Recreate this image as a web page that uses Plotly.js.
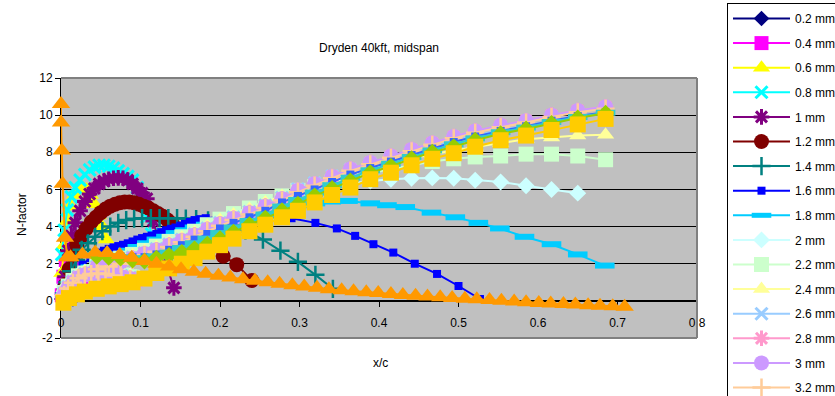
<!DOCTYPE html>
<html><head><meta charset="utf-8">
<script src="https://cdn.plot.ly/plotly-3.0.1.min.js"></script>
<style>html,body{margin:0;padding:0;background:#fff;overflow:hidden;}#chart{width:835px;height:396px;}</style>
</head><body><div id="chart"></div>
<script>
// ---------- data ----------
const x02 = [0.001,0.003,0.005,0.008,0.011,0.015];
const n02 = [0.1,0.6,0.9,0.8,0.5,0.1];
const x04 = [0.001,0.003,0.006,0.009,0.012,0.016,0.02,0.025];
const n04 = [0.3,1.3,2.2,2.7,2.8,2.5,1.9,1.0];
const x06 = [0.001,0.004,0.008,0.012,0.017,0.022,0.027,0.032,0.037,0.042,0.047,0.052,0.057];
const n06 = [1.5,3.0,4.3,5.1,5.7,6.0,6.1,6.0,5.7,5.2,4.6,4.0,3.3];
const x08 = [0.001,0.004,0.008,0.013,0.018,0.024,0.03,0.036,0.042,0.048,0.054,0.06,0.066,0.072,0.078,0.084,0.09,0.096,0.102,0.108,0.114];
const n08 = [2.5,3.8,4.9,5.6,6.1,6.5,6.8,7.05,7.2,7.3,7.3,7.25,7.15,7.0,6.85,6.7,6.5,6.1,5.4,4.5,3.6];
const x10 = [0.002,0.005,0.009,0.013,0.018,0.024,0.03,0.036,0.042,0.048,0.054,0.06,0.066,0.072,0.078,0.084,0.09,0.096,0.102,0.108,0.116,0.124,0.133,0.142];
const n10 = [0.4,1.3,2.7,3.5,4.2,4.85,5.35,5.75,6.05,6.3,6.45,6.55,6.6,6.62,6.6,6.5,6.3,6.05,5.8,5.5,4.3,3.1,1.9,0.7];
const x12 = [0.003,0.006,0.01,0.015,0.02,0.026,0.032,0.038,0.044,0.05,0.056,0.062,0.068,0.074,0.08,0.086,0.092,0.098,0.104,0.11,0.116,0.122,0.128,0.134,0.14,0.15,0.168,0.186,0.204,0.221,0.24];
const n12 = [0.1,0.9,1.7,2.4,3.0,3.5,3.9,4.25,4.5,4.75,4.95,5.1,5.2,5.28,5.32,5.32,5.28,5.2,5.1,5.0,4.85,4.7,4.55,4.35,4.15,3.85,3.4,2.9,2.4,1.95,1.1];
const x14 = [0.004,0.008,0.013,0.019,0.026,0.034,0.043,0.052,0.062,0.072,0.082,0.092,0.102,0.113,0.124,0.135,0.146,0.157,0.17,0.185,0.2,0.215,0.232,0.254,0.276,0.298,0.32,0.342];
const n14 = [0.3,1.0,1.6,2.2,2.75,3.1,3.45,3.75,4.0,4.2,4.35,4.42,4.45,4.45,4.45,4.45,4.45,4.43,4.4,4.33,4.22,4.08,3.8,3.3,2.7,2.1,1.4,0.65];
const x16 = [0.005,0.01,0.018,0.027,0.037,0.048,0.054,0.06,0.066,0.072,0.078,0.084,0.09,0.096,0.102,0.108,0.114,0.12,0.126,0.132,0.138,0.144,0.15,0.156,0.162,0.168,0.175,0.182,0.2,0.22,0.24,0.26,0.29,0.32,0.347,0.37,0.393,0.418,0.445,0.473,0.5,0.527];
const n16 = [0.4,0.9,1.5,1.95,2.3,2.6,2.7,2.8,2.88,2.95,3.02,3.1,3.2,3.3,3.38,3.45,3.52,3.6,3.7,3.8,3.88,3.95,4.05,4.15,4.25,4.35,4.4,4.45,4.52,4.56,4.58,4.57,4.45,4.2,3.9,3.5,3.05,2.6,2.0,1.45,0.8,0.1];
const x18 = [0.005,0.01,0.018,0.027,0.037,0.048,0.06,0.072,0.084,0.096,0.108,0.12,0.132,0.144,0.156,0.168,0.182,0.2,0.22,0.24,0.26,0.28,0.3,0.32,0.34,0.361,0.389,0.41,0.433,0.466,0.496,0.525,0.552,0.583,0.617,0.65,0.684];
const n18 = [0.3,0.7,1.15,1.5,1.8,2.05,2.3,2.5,2.7,2.9,3.1,3.3,3.45,3.65,3.8,3.95,4.1,4.3,4.5,4.7,4.85,5.0,5.15,5.25,5.35,5.38,5.25,5.15,5.05,4.75,4.5,4.2,3.9,3.45,3.05,2.5,1.9];

// upper branch stations shared by the 2.0 – 3.8 mm curves
const xU = [0.045,0.06,0.075,0.09,0.105,0.12,0.136,0.152,0.168,0.184,0.2,0.217,0.237,0.257,0.278,0.298,0.319,0.341,0.364,0.389,0.415,0.441,0.467,0.494,0.521,0.553,0.585,0.617,0.65,0.685];
const n20 = [1.9,2.05,2.2,2.4,2.62,2.85,3.1,3.35,3.65,4.0,4.3,4.6,4.9,5.2,5.5,5.7,5.9,6.1,6.3,6.45,6.55,6.6,6.62,6.6,6.5,6.4,6.2,6.0,5.8];
const n22 = [2.0,2.15,2.3,2.5,2.72,2.95,3.2,3.45,3.75,4.1,4.4,4.7,5.0,5.35,5.65,5.95,6.15,6.4,6.65,6.85,7.1,7.3,7.5,7.65,7.75,7.8,7.9,7.9,7.8,7.6];
const n24 = [1.95,2.1,2.25,2.45,2.68,2.9,3.15,3.4,3.7,4.05,4.35,4.65,4.95,5.3,5.65,6.0,6.25,6.55,6.85,7.1,7.4,7.65,7.9,8.1,8.3,8.5,8.7,8.8,8.9,8.95];
const n26 = [1.85,2.0,2.15,2.35,2.58,2.8,3.05,3.3,3.6,3.9,4.2,4.5,4.8,5.15,5.55,6.02,6.35,6.72,7.08,7.4,7.72,8.05,8.35,8.65,8.92,9.2,9.42,9.7,9.92,10.1];
const n28 = [1.8,1.95,2.1,2.3,2.55,2.75,3.0,3.25,3.55,3.85,4.15,4.45,4.75,5.1,5.5,5.95,6.3,6.7,7.1,7.45,7.8,8.15,8.5,8.85,9.15,9.45,9.7,10.0,10.25,10.45];
const n30 = [1.8,1.95,2.1,2.3,2.55,2.75,3.0,3.25,3.55,3.85,4.15,4.45,4.75,5.1,5.5,5.95,6.3,6.7,7.1,7.45,7.8,8.15,8.5,8.85,9.15,9.45,9.7,10.0,10.25,10.45];
const n32 = [1.7,1.85,2.0,2.2,2.45,2.65,2.9,3.15,3.45,3.75,4.05,4.35,4.65,5.0,5.4,5.85,6.2,6.6,7.0,7.35,7.7,8.05,8.4,8.75,9.05,9.35,9.6,9.9,10.15,10.35];
const n34 = [2.5,2.45,2.4,2.35,2.35,2.5,2.75,3.0,3.3,3.6,3.9,4.2,4.5,4.85,5.3,5.65,6.0,6.4,6.8,7.15,7.5,7.85,8.2,8.55,8.85,9.15,9.4,9.7,9.95,10.15];
const n36 = [2.45,2.4,2.35,2.3,2.25,2.4,2.6,2.85,3.1,3.35,3.65,3.95,4.3,4.65,5.08,5.43,5.83,6.23,6.63,7.03,7.38,7.75,8.1,8.43,8.75,9.08,9.33,9.63,9.9,10.13];
const n38 = [2.4,2.35,2.3,2.2,2.15,2.3,2.45,2.6,2.8,3.05,3.35,3.7,4.1,4.45,4.85,5.2,5.65,6.05,6.45,6.9,7.25,7.65,8.0,8.3,8.65,9.0,9.25,9.55,9.85,10.1];

// lower leading-edge branch of the 2.0 – 3.2 mm curves
const xL = [0.004,0.009,0.015,0.022,0.03,0.038,0.047,0.056,0.066,0.076,0.087,0.098];
const n20L = [0.5,0.85,1.15,1.4,1.55,1.62,1.65,1.62,1.55,1.45,1.35,1.25];
const n22L = [0.45,0.8,1.1,1.35,1.5,1.57,1.6,1.57,1.5,1.4,1.3,1.2];
const n24L = [0.52,0.87,1.17,1.42,1.57,1.64,1.67,1.64,1.57,1.47,1.37,1.27];
const n26L = [0.4,0.75,1.05,1.3,1.45,1.52,1.55,1.52,1.45,1.35,1.25,1.15];
const n28L = [0.37,0.72,1.02,1.27,1.42,1.49,1.52,1.49,1.42,1.32,1.22,1.12];
const n30L = [0.35,0.7,1.0,1.25,1.4,1.47,1.5,1.47,1.4,1.3,1.2,1.1];
const n32L = [0.32,0.67,0.97,1.22,1.37,1.44,1.47,1.44,1.37,1.27,1.17,1.07];

const x40 = [0.003,0.01,0.02,0.03,0.045,0.06,0.075,0.09,0.105,0.12,0.136,0.152,0.168,0.184,0.2,0.217,0.237,0.257,0.278,0.298,0.319,0.341,0.364,0.389,0.415,0.441,0.467,0.494,0.521,0.553,0.585,0.617,0.65,0.685];
const n40 = [-0.1,0.15,0.35,0.5,0.65,0.78,0.9,1.0,1.2,1.5,1.75,2.0,2.3,2.65,3.0,3.35,3.75,4.1,4.5,4.85,5.3,5.7,6.1,6.55,6.9,7.3,7.65,7.95,8.3,8.65,8.9,9.2,9.5,9.8];
const x42 = [0.0,0.0,0.001,0.002,0.005,0.008,0.012,0.027,0.043,0.058,0.074,0.089,0.105,0.12,0.136,0.151,0.167,0.182,0.198,0.213,0.229,0.244,0.26,0.275,0.291,0.306,0.322,0.337,0.353,0.368,0.384,0.399,0.415,0.43,0.446,0.461,0.477,0.492,0.508,0.523,0.539,0.554,0.57,0.585,0.601,0.616,0.632,0.647,0.663,0.678,0.694,0.709];
const n42 = [10.6,9.6,8.1,6.3,3.4,2.35,2.35,2.5,2.6,2.58,2.47,2.32,2.15,2.0,1.85,1.7,1.57,1.46,1.35,1.26,1.17,1.08,1.0,0.92,0.84,0.77,0.7,0.63,0.57,0.52,0.47,0.42,0.37,0.32,0.28,0.24,0.2,0.16,0.12,0.08,0.04,0.0,-0.04,-0.08,-0.11,-0.14,-0.17,-0.2,-0.23,-0.26,-0.29,-0.32];

const yTickVals = [-2,0,2,4,6,8,10,12];
const yTickText = ['-2','0','2','4','6','8','10','12'];

// ---------- traces ----------
const FONT = 'Arial, "Liberation Sans", sans-serif';
const openSyms = ['x-thin','asterisk','cross-thin','line-ew'];
function tr(name, x, y, color, symbol, size, show, group, lw) {
  const open = openSyms.indexOf(symbol) >= 0;
  return {
    type: 'scatter', mode: 'lines+markers', name: name, x: x, y: y,
    showlegend: show, legendgroup: group || name, cliponaxis: false,
    line: {color: color, width: 2},
    marker: {symbol: symbol, size: size, color: color,
             line: {color: color, width: open ? (lw || 2) : 0}}
  };
}
const traces = [
  tr('0.2 mm', x02, n02, '#000080', 'diamond', 12, true),
  tr('0.4 mm', x04, n04, '#FF00FF', 'square', 14, true),
  tr('0.6 mm', x06, n06, '#FFFF00', 'triangle-up', 15, true),
  tr('0.8 mm', x08, n08, '#00FFFF', 'x-thin', 12, true, null, 3),
  tr('1 mm', x10, n10, '#800080', 'asterisk', 13, true, null, 3),
  tr('1.2 mm', x12, n12, '#800000', 'circle', 15, true),
  tr('1.4 mm', x14, n14, '#008080', 'cross-thin', 13, true, null, 2.5),
  tr('1.6 mm', x16, n16, '#0000FF', 'square', 8, true),
  tr('1.8 mm', x18, n18, '#00CCFF', 'line-ew', 14, true, null, 6),
  tr('2 mm', xU.slice(0, n20.length), n20, '#CCFFFF', 'diamond', 13, true),
  tr('2 mm', xL, n20L, '#CCFFFF', 'diamond', 13, false, '2 mm'),
  tr('2.2 mm', xU, n22, '#CCFFCC', 'square', 15, true),
  tr('2.2 mm', xL, n22L, '#CCFFCC', 'square', 15, false, '2.2 mm'),
  tr('2.4 mm', xU, n24, '#FFFF99', 'triangle-up', 15, true),
  tr('2.4 mm', xL, n24L, '#FFFF99', 'triangle-up', 15, false, '2.4 mm'),
  tr('2.6 mm', xU, n26, '#99CCFF', 'x-thin', 12, true, null, 3),
  tr('2.6 mm', xL, n26L, '#99CCFF', 'x-thin', 12, false, '2.6 mm', 3),
  tr('2.8 mm', xU, n28, '#FF99CC', 'asterisk', 13, true, null, 3),
  tr('2.8 mm', xL, n28L, '#FF99CC', 'asterisk', 13, false, '2.8 mm', 3),
  tr('3 mm', xU, n30, '#CC99FF', 'circle', 15, true),
  tr('3 mm', xL, n30L, '#CC99FF', 'circle', 15, false, '3 mm'),
  tr('3.2 mm', xU, n32, '#FFCC99', 'cross-thin', 13, true, null, 2.5),
  tr('3.2 mm', xL, n32L, '#FFCC99', 'cross-thin', 13, false, '3.2 mm', 2.5),
  tr('3.4 mm', xU, n34, '#3366FF', 'square', 8, false),
  tr('3.6 mm', xU, n36, '#33CCCC', 'line-ew', 14, false, null, 6),
  tr('3.8 mm', xU, n38, '#99CC00', 'diamond', 13, false),
  tr('4 mm', x40, n40, '#FFCC00', 'square', 16, false),
  tr('4.2 mm', x42, n42, '#FF9900', 'triangle-up', 16, false)
];

const layout = {
  width: 835, height: 396,
  margin: {l: 61, r: 138, t: 78, b: 58, pad: 0, autoexpand: false},
  paper_bgcolor: '#FFFFFF', plot_bgcolor: '#C0C0C0',
  font: {family: FONT, size: 12, color: '#000'},
  title: {text: 'Dryden 40kft, midspan', x: 0.5, xref: 'paper', xanchor: 'center',
          y: 1 - 48/396, yref: 'container', yanchor: 'middle',
          font: {family: FONT, size: 12, color: '#000'}},
  xaxis: {range: [0, 0.8], dtick: 0.1, tick0: 0, anchor: 'free', position: 2/14,
          showgrid: false, zeroline: false, showline: true, linecolor: '#000', linewidth: 1,
          ticks: 'outside', ticklen: 5, tickcolor: '#000', layer: 'below traces',
          ticklabelstandoff: 6,
          tickfont: {family: FONT, size: 12, color: '#000'}},
  yaxis: {range: [-2, 12], tickvals: yTickVals, ticktext: yTickText,
          showgrid: true, gridcolor: '#000', gridwidth: 1, zeroline: false,
          showline: true, linecolor: '#000', linewidth: 1,
          ticks: 'outside', ticklen: 5, tickcolor: '#000', layer: 'below traces',
          tickfont: {family: FONT, size: 12, color: '#000'}},
  showlegend: true,
  legend: {x: (727-61)/636, xanchor: 'left', y: (338-3)/260, yanchor: 'top',
           bgcolor: '#FFFFFF', bordercolor: '#000', borderwidth: 1,
           font: {family: FONT, size: 12, color: '#000'},
           tracegroupgap: 5.6, itemwidth: 57, traceorder: 'grouped', maxheight: 2000},
  shapes: [
    {type: 'line', xref: 'paper', yref: 'paper', x0: 0, x1: 1, y0: 1, y1: 1, line: {color: '#808080', width: 2}},
    {type: 'line', xref: 'paper', yref: 'paper', x0: 1, x1: 1, y0: 0, y1: 1, line: {color: '#808080', width: 2}},
    {type: 'line', xref: 'paper', yref: 'paper', x0: 0, x1: 1, y0: 0, y1: 0, line: {color: '#808080', width: 2}}
  ],
  annotations: [
    {text: 'x/c', xref: 'paper', yref: 'paper', x: (380-61)/636, y: (338-363)/260,
     showarrow: false, xanchor: 'center', yanchor: 'middle', font: {family: FONT, size: 12, color: '#000'}},
    {text: 'N-factor', xref: 'paper', yref: 'paper', x: (22-61)/636, y: (338-215)/260, textangle: -90,
     showarrow: false, xanchor: 'center', yanchor: 'middle', font: {family: FONT, size: 12, color: '#000'}}
  ]
};
Plotly.newPlot('chart', traces, layout, {displayModeBar: false, staticPlot: true});
</script></body></html>
